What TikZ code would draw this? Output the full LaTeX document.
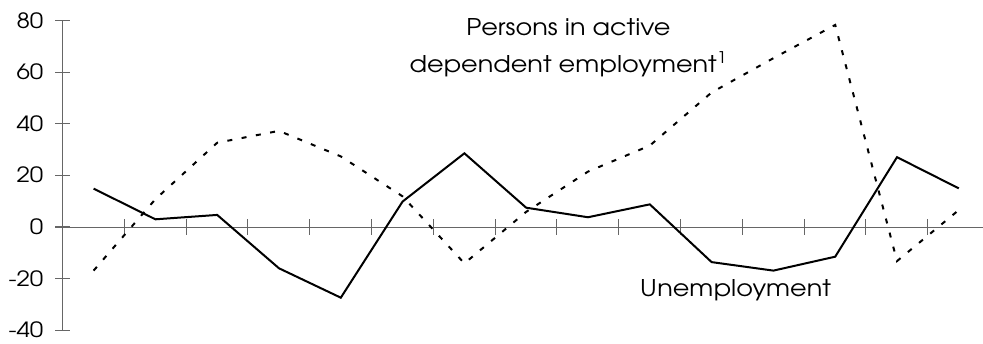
\documentclass[tikz,border=0pt]{standalone}
\usepackage{fontspec}
\setmainfont{TeX Gyre Adventor}
\newfontfamily\labfont[FakeStretch=1.11]{TeX Gyre Adventor}
\newfontfamily\tickfont[FakeStretch=1.15]{TeX Gyre Adventor}
\begin{document}
\begin{tikzpicture}[x=1pt,y=1pt,
  axisline/.style={line width=1pt, draw=black!60},
  unemp/.style={line width=2pt, line join=miter},
  emp/.style={line width=2pt, dash pattern=on 5pt off 9.5pt},
  ticklab/.style={anchor=base east, inner sep=0pt, font=\tickfont\fontsize{21}{25}\selectfont},
  lab/.style={inner sep=0pt, font=\labfont\fontsize{23}{28}\selectfont}]
\useasboundingbox (0,0) rectangle (983,-343);
% axes
\coordinate (ytop) at (62.5,-20.7);
\coordinate (ybot) at (62.5,-330);
\coordinate (xl) at (55,-227.3);
\coordinate (xr) at (983,-227.3);
\draw[axisline] (ytop) -- (ybot);
\draw[axisline] (xl) -- (xr);
\foreach \lab [count=\k from 0] in {80,60,40,20,0,-20,-40} {
  \pgfmathsetmacro{\yy}{-20.7-51.55*\k}
  \draw[axisline] (55,\yy) -- (70,\yy);
  \node[ticklab] (yl\k) at (43.5,\yy-7.6) {\lab};
}
\foreach \k in {1,...,14} {
  \draw[axisline] (62.5+61.8*\k,-219) -- (62.5+61.8*\k,-235);
}
% data
\begin{scope}[shift={(0,-227.3)}, y=2.578pt]
\foreach \v [count=\i from 0] in {15,3.1,4.8,-15.9,-27.3,10,28.7,7.6,3.9,8.9,-13.5,-16.8,-11.4,27.2,15.1}
  \coordinate (u\i) at (93.6+61.8*\i,\v);
\foreach \v [count=\i from 0] in {-16.8,10.9,32.8,37.4,27.5,12,-14,6,21.6,31.7,52.3,65.6,78.5,-13.1,6.7}
  \coordinate (e\i) at (93.6+61.8*\i,\v);
\draw[emp] (e0) \foreach \i in {1,...,14} { -- (e\i) };
\draw[unemp] (u0) \foreach \i in {1,...,14} { -- (u\i) };
\end{scope}
% labels
\node[lab, anchor=base] (t1) at (568.5,-35) {Persons in active};
\node[lab, anchor=base] (t2) at (568.5,-72.7) {dependent employment\textsuperscript{1}};
\node[lab, anchor=base west] (t3) at (640,-296.7) {Unemployment};
\end{tikzpicture}
\end{document}
